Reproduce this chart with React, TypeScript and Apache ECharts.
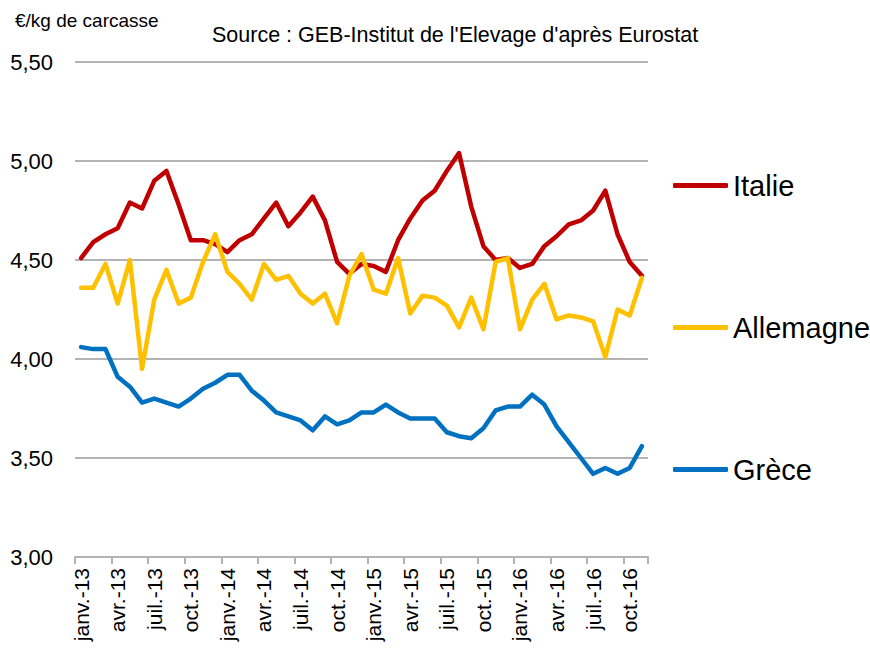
import React, { useEffect, useRef } from "react";
import * as echarts from "echarts";

const months = ["janv.", "févr.", "mars", "avr.", "mai", "juin", "juil.", "août", "sept.", "oct.", "nov.", "déc."];
const years = ["13", "14", "15", "16"];
const categories: string[] = [];
years.forEach((y) => months.forEach((m) => categories.push(m + "-" + y)));
categories.pop(); // janv.-13 ... nov.-16 (47 months)

const italie = [
  4.51, 4.59, 4.63, 4.66, 4.79, 4.76, 4.90, 4.95, 4.78, 4.60, 4.60, 4.58,
  4.54, 4.60, 4.63, 4.71, 4.79, 4.67, 4.74, 4.82, 4.70, 4.49, 4.43, 4.48,
  4.47, 4.44, 4.60, 4.71, 4.80, 4.85, 4.95, 5.04, 4.77, 4.57, 4.50, 4.51,
  4.46, 4.48, 4.57, 4.62, 4.68, 4.70, 4.75, 4.85, 4.63, 4.49, 4.42,
];
const allemagne = [
  4.36, 4.36, 4.48, 4.28, 4.50, 3.95, 4.30, 4.45, 4.28, 4.31, 4.49, 4.63,
  4.44, 4.38, 4.30, 4.48, 4.40, 4.42, 4.33, 4.28, 4.33, 4.18, 4.42, 4.53,
  4.35, 4.33, 4.51, 4.23, 4.32, 4.31, 4.27, 4.16, 4.31, 4.15, 4.49, 4.51,
  4.15, 4.30, 4.38, 4.20, 4.22, 4.21, 4.19, 4.01, 4.25, 4.22, 4.41,
];
const grece = [
  4.06, 4.05, 4.05, 3.91, 3.86, 3.78, 3.80, 3.78, 3.76, 3.80, 3.85, 3.88,
  3.92, 3.92, 3.84, 3.79, 3.73, 3.71, 3.69, 3.64, 3.71, 3.67, 3.69, 3.73,
  3.73, 3.77, 3.73, 3.70, 3.70, 3.70, 3.63, 3.61, 3.60, 3.65, 3.74, 3.76,
  3.76, 3.82, 3.77, 3.66, 3.58, 3.50, 3.42, 3.45, 3.42, 3.45, 3.56,
];
const seriesNames = ["Italie", "Allemagne", "Grèce"];
const seriesColors = ["#C00000", "#FFC000", "#0070C0"];
const yTicks = { min: 3, max: 5.5, interval: 0.5 };

const FONT = "'Liberation Sans', Arial, sans-serif";

export default function App() {
  const ref = useRef<HTMLDivElement>(null);
  useEffect(() => {
    document.body.style.margin = "0";
    const chart = echarts.init(ref.current!, null, { renderer: "svg" });
    const dataSets = [italie, allemagne, grece];
    chart.setOption({
      animation: false,
      backgroundColor: "#ffffff",
      textStyle: { fontFamily: FONT },
      title: [
        {
          text: "€/kg de carcasse",
          left: 10,
          top: 6,
          textStyle: { fontSize: 19, fontWeight: "normal", color: "#000", fontFamily: FONT },
        },
        {
          text: "Source : GEB-Institut de l'Elevage d'après Eurostat",
          left: 207,
          top: 19,
          textStyle: { fontSize: 21.5, fontWeight: "normal", color: "#000", fontFamily: FONT },
        },
      ],
      legend: {
        orient: "vertical",
        left: 668,
        top: 166,
        itemWidth: 55,
        itemHeight: 5,
        itemGap: 113,
        icon: "roundRect",
        data: seriesNames,
        textStyle: { fontSize: 29, color: "#000", fontFamily: FONT },
      },
      grid: { left: 75, right: 222, top: 62, bottom: 91, containLabel: false },
      xAxis: {
        type: "category",
        data: categories,
        boundaryGap: true,
        axisLine: { show: true, lineStyle: { color: "#b3b3b3", width: 2 } },
        axisTick: { show: true, interval: 2, length: 7, lineStyle: { color: "#b3b3b3", width: 2 } },
        axisLabel: {
          interval: 2,
          rotate: 90,
          margin: 11,
          fontSize: 21,
          color: "#000",
          fontFamily: FONT,
        },
        splitLine: { show: false },
      },
      yAxis: {
        type: "value",
        min: yTicks.min,
        max: yTicks.max,
        interval: yTicks.interval,
        axisLine: { show: false },
        axisTick: { show: false },
        axisLabel: {
          margin: 22,
          fontSize: 22,
          color: "#000",
          fontFamily: FONT,
          formatter: (v: number) => v.toFixed(2).replace(".", ","),
        },
        splitLine: { show: true, lineStyle: { color: "#b3b3b3", width: 2 } },
      },
      series: seriesNames.map((name, k) => ({
        name,
        type: "line",
        data: dataSets[k],
        symbol: "none",
        showSymbol: false,
        color: seriesColors[k],
        lineStyle: { color: seriesColors[k], width: 4.5, join: "round", cap: "round" },
        itemStyle: { color: seriesColors[k] },
        z: 2 + k,
      })),
    });
    return () => chart.dispose();
  }, []);
  return (
    <div
      ref={ref}
      style={{ position: "absolute", left: 0, top: 0, width: 870, height: 648 }}
    />
  );
}
